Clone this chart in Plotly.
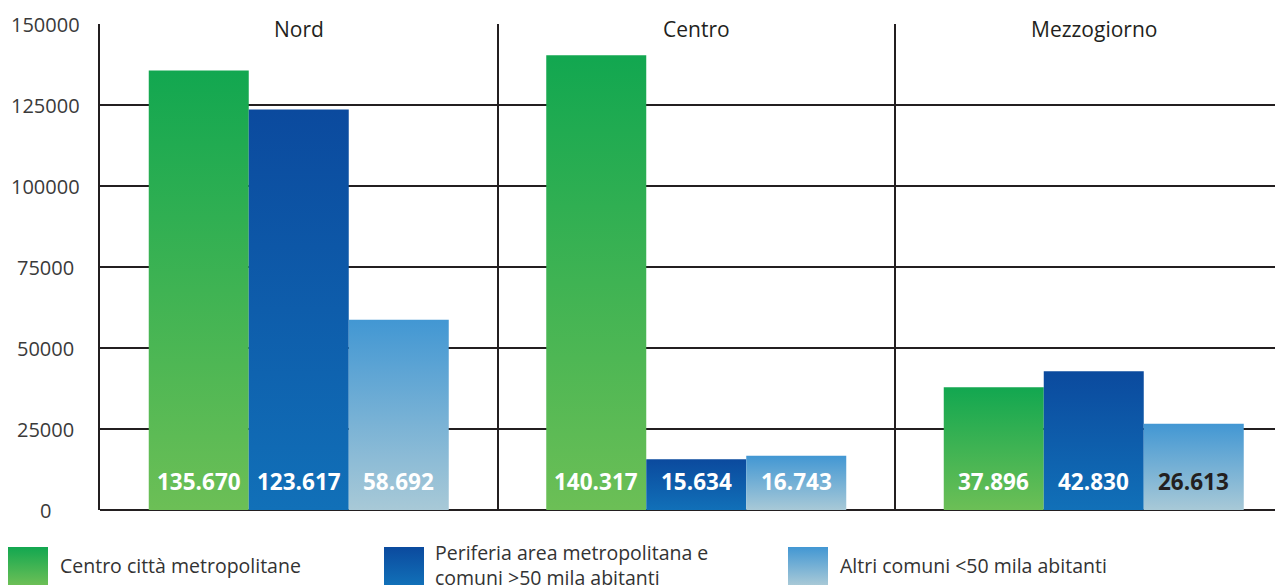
import plotly.graph_objects as go

# ---------------- data ----------------
regions = ["Nord", "Centro", "Mezzogiorno"]
series_names = [
    "Centro città metropolitane",
    "Periferia area metropolitana e<br>comuni >50 mila abitanti",
    "Altri comuni <50 mila abitanti",
]
centro_citta = [135670, 140317, 37896]
periferia = [123617, 15634, 42830]
altri_comuni = [58692, 16743, 26613]
y_tick_values = [0, 25000, 50000, 75000, 100000, 125000, 150000]

series_values = [centro_citta, periferia, altri_comuni]

# ---------------- style ----------------
PAGE_OFF = 8                      # default body margin of the html page
W, H = 1283 - PAGE_OFF, 585 - PAGE_OFF
LEFT, TOP, BOTTOM_PX = 100, 24, 510   # plot area, in window pixels
PANEL_PX = 397.5
BAR_W = 100 / PANEL_PX
GRID = "#231F20"
FONT = "Open Sans"

grad_colors = [  # (bottom, top)
    ("#6CBF56", "#12A750"),
    ("#1170B8", "#0B4A9E"),
    ("#A8C9D7", "#4297D3"),
]
label_colors = [
    ["white", "white", "white"],
    ["white", "white", "white"],
    ["white", "white", GRID],
]
legend_swatch_x = [8, 384, 788]
legend_text_x = [58, 433, 838]

fig = go.Figure()

x_end = -0.5 + (1283 - LEFT) / PANEL_PX
plot_h = H - (TOP - PAGE_OFF)
dom_bottom = (585 - BOTTOM_PX) / plot_h

annotations = []
for s, vals in enumerate(series_values):
    bottom_c, top_c = grad_colors[s]
    for r, v in enumerate(vals):
        xc = r + (s - 1) * BAR_W
        x0, x1 = xc - BAR_W / 2, xc + BAR_W / 2
        fig.add_trace(go.Scatter(
            x=[x0, x1, x1, x0, x0], y=[0, 0, v, v, 0],
            mode="lines", line=dict(width=0),
            fill="toself",
            fillgradient=dict(type="vertical",
                              colorscale=[[0, bottom_c], [1, top_c]]),
            name=series_names[s].replace("<br>", " "),
            showlegend=False, hoverinfo="skip",
            xaxis="x", yaxis="y",
        ))
        annotations.append(dict(
            x=xc, y=0, xref="x", yref="y", yshift=29,
            text=f"<b>{v:,}</b>".replace(",", "."),
            showarrow=False, xanchor="center", yanchor="middle",
            font=dict(family=FONT, size=22.5, color=label_colors[s][r]),
        ))

# legend swatches (own pixel-like axes in the bottom strip)
for s in range(3):
    bottom_c, top_c = grad_colors[s]
    sx = legend_swatch_x[s]
    fig.add_trace(go.Scatter(
        x=[sx, sx + 40, sx + 40, sx, sx], y=[547, 547, 585, 585, 547],
        mode="lines", line=dict(width=0), fill="toself",
        fillgradient=dict(type="vertical",
                          colorscale=[[0, bottom_c], [1, top_c]]),
        showlegend=False, hoverinfo="skip",
        xaxis="x2", yaxis="y2",
    ))
    annotations.append(dict(
        x=legend_text_x[s], y=565, xref="x2", yref="y2",
        text=series_names[s], showarrow=False,
        xanchor="left", yanchor="middle", align="left",
        font=dict(family=FONT, size=19.5, color="#333333"),
    ))

# panel titles
for r, name in enumerate(regions):
    annotations.append(dict(
        x=r, y=150000, xref="x", yref="y", yshift=-5,
        text=name, showarrow=False, xanchor="center", yanchor="middle",
        font=dict(family=FONT, size=21, color=GRID),
    ))

# y tick labels (centred)
for t in y_tick_values:
    annotations.append(dict(
        x=45, y=t, xref="x2", yref="y", text=str(t), showarrow=False,
        xanchor="center", yanchor="middle",
        font=dict(family=FONT, size=20, color="#3A3A3A"),
    ))

fig.update_layout(
    width=W, height=H,
    margin=dict(l=0, r=0, t=TOP - PAGE_OFF, b=0),
    paper_bgcolor="white", plot_bgcolor="white",
    showlegend=False,
    xaxis=dict(domain=[(LEFT - PAGE_OFF) / W, 1], range=[-0.5, x_end],
               showticklabels=False, ticks="", zeroline=False,
               tickvals=[0.5, 1.5], showgrid=True,
               gridcolor=GRID, gridwidth=2, fixedrange=True),
    yaxis=dict(domain=[dom_bottom, 1], range=[0, 150000],
               tickvals=y_tick_values[:-1], showticklabels=False, ticks="",
               showgrid=True, gridcolor=GRID, gridwidth=2,
               zeroline=True, zerolinecolor=GRID, zerolinewidth=2,
               showline=True, linecolor=GRID, linewidth=2,
               fixedrange=True),
    xaxis2=dict(domain=[0, 1], range=[PAGE_OFF, 1283], visible=False,
                anchor="y2", fixedrange=True),
    yaxis2=dict(domain=[0, dom_bottom], range=[585, BOTTOM_PX], visible=False,
                anchor="x2", fixedrange=True),
    annotations=annotations,
)

fig.write_html("out.html", config={"displayModeBar": False})
